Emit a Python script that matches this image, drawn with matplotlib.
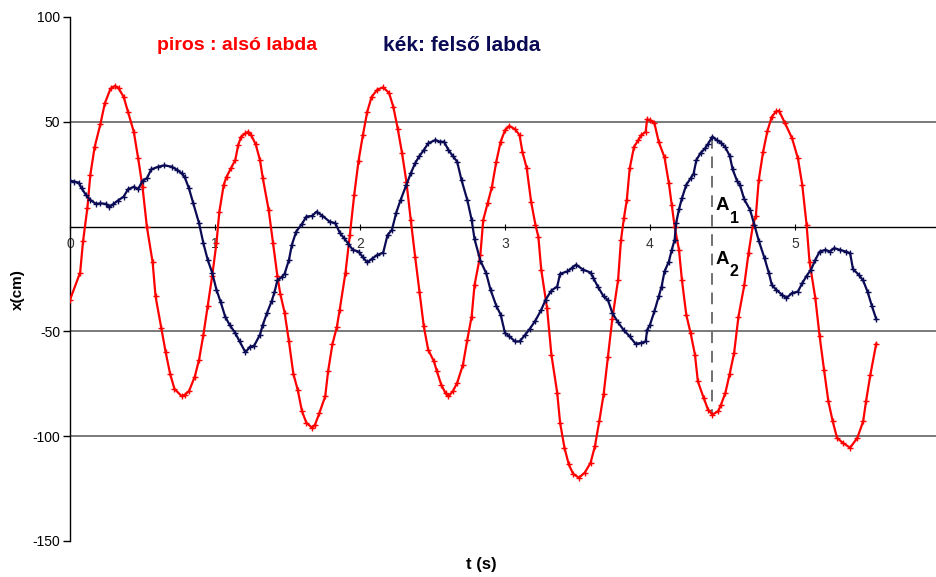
import matplotlib
matplotlib.use("Agg")
import matplotlib.pyplot as plt
import numpy as np

plt.rcParams['font.family'] = ['Liberation Sans', 'DejaVu Sans']

# ---- data ----
red_t = [0.00, 0.07, 0.09, 0.12, 0.14, 0.17, 0.21, 0.24, 0.28, 0.31, 0.335, 0.37, 0.40, 0.44, 0.47,
         0.50, 0.53, 0.57, 0.59, 0.63, 0.66, 0.69, 0.72, 0.77, 0.79, 0.82, 0.86, 0.89, 0.92, 0.95,
         0.98, 1.01, 1.03, 1.06, 1.08, 1.11, 1.14, 1.16, 1.18, 1.21, 1.23, 1.25, 1.28, 1.31, 1.33,
         1.37, 1.40, 1.43, 1.45, 1.48, 1.51, 1.54, 1.57, 1.60, 1.63, 1.67, 1.69, 1.72, 1.76, 1.78,
         1.81, 1.84, 1.86, 1.90, 1.93, 1.96, 1.99, 2.02, 2.05, 2.08, 2.12, 2.16, 2.20, 2.23, 2.26,
         2.29, 2.32, 2.35, 2.38, 2.41, 2.44, 2.47, 2.51, 2.53, 2.56, 2.59, 2.61, 2.64, 2.67, 2.71,
         2.74, 2.77, 2.79, 2.83, 2.85, 2.88, 2.91, 2.94, 2.97, 3.00, 3.03, 3.07, 3.10, 3.12, 3.15,
         3.18, 3.21, 3.23, 3.25, 3.29, 3.32, 3.36, 3.38, 3.41, 3.44, 3.47, 3.51, 3.55, 3.59, 3.62,
         3.65, 3.68, 3.71, 3.74, 3.78, 3.80, 3.82, 3.84, 3.86, 3.89, 3.92, 3.94, 3.97, 3.98, 4.00,
         4.03, 4.06, 4.10, 4.13, 4.15, 4.17, 4.20, 4.22, 4.25, 4.28, 4.31, 4.33, 4.37, 4.40, 4.43,
         4.47, 4.49, 4.52, 4.55, 4.58, 4.61, 4.65, 4.68, 4.71, 4.73, 4.75, 4.78, 4.81, 4.84, 4.87,
         4.89, 4.93, 4.98, 5.02, 5.05, 5.08, 5.10, 5.14, 5.17, 5.20, 5.23, 5.26, 5.29, 5.33, 5.38,
         5.43, 5.47, 5.49, 5.52, 5.56]
red_x = [-34.9, -21.9, -7.0, 9.0, 24.6, 38.0, 49.0, 58.8, 65.9, 67.1, 66.0, 61.9, 54.8, 45.2, 32.6,
         19.0, 0.0, -17.1, -33.3, -48.4, -60.0, -70.1, -77.4, -80.9, -80.3, -78.6, -71.7, -63.5, -51.6, -37.8,
         -23.8, -7.9, 7.1, 19.9, 23.8, 27.8, 31.8, 38.9, 42.9, 44.5, 45.2, 43.5, 39.4, 31.8, 23.0,
         8.0, -7.9, -23.5, -32.0, -41.0, -54.8, -70.1, -77.8, -88.1, -93.6, -96.0, -94.5, -88.9, -81.0, -69.0,
         -56.0, -48.0, -39.7, -21.9, -4.0, 15.1, 31.4, 43.7, 54.8, 61.9, 65.4, 66.4, 63.8, 57.1, 46.8,
         35.0, 21.4, 3.2, -14.3, -31.0, -47.6, -58.7, -64.3, -69.0, -75.4, -79.5, -81.0, -78.6, -74.6, -65.9,
         -54.0, -42.9, -27.8, -13.5, 3.2, 11.1, 19.0, 31.0, 40.5, 46.0, 48.0, 46.4, 43.7, 35.7, 27.8,
         11.9, 0.8, -4.8, -20.6, -38.9, -61.1, -79.3, -93.6, -105.5, -113.5, -118.0, -119.8, -117.4, -112.7, -104.8,
         -92.9, -80.1, -62.0, -44.0, -25.4, -6.3, 4.0, 12.7, 27.8, 38.1, 41.3, 43.7, 45.2, 51.1, 50.8,
         49.5, 40.5, 33.0, 20.7, 10.3, 0.0, -11.1, -25.4, -42.0, -50.8, -61.1, -73.8, -81.7, -87.3, -89.7,
         -88.1, -84.9, -79.3, -70.1, -60.3, -43.0, -28.0, -12.4, 0.8, 5.1, 22.2, 35.7, 45.7, 52.4, 55.0,
         55.2, 49.5, 42.1, 32.6, 19.9, 0.8, -16.7, -34.1, -52.4, -68.2, -83.3, -92.9, -100.8, -103.2, -105.5,
         -100.8, -92.9, -83.3, -70.6, -55.9]

blue_t = [0.00, 0.03, 0.06, 0.08, 0.11, 0.14, 0.18, 0.21, 0.25, 0.27, 0.30, 0.33, 0.37, 0.40, 0.44,
          0.47, 0.50, 0.53, 0.56, 0.61, 0.65, 0.70, 0.74, 0.77, 0.79, 0.82, 0.85, 0.89, 0.92, 0.95,
          0.98, 1.01, 1.04, 1.07, 1.10, 1.14, 1.17, 1.21, 1.24, 1.27, 1.31, 1.33, 1.36, 1.39, 1.41,
          1.43, 1.46, 1.48, 1.51, 1.53, 1.56, 1.60, 1.63, 1.67, 1.70, 1.74, 1.79, 1.83, 1.86, 1.89,
          1.92, 1.95, 1.99, 2.02, 2.05, 2.08, 2.12, 2.16, 2.19, 2.22, 2.25, 2.28, 2.32, 2.35, 2.38,
          2.41, 2.44, 2.47, 2.52, 2.55, 2.58, 2.61, 2.64, 2.67, 2.70, 2.74, 2.77, 2.79, 2.83, 2.87,
          2.90, 2.94, 2.97, 3.00, 3.03, 3.07, 3.10, 3.14, 3.17, 3.21, 3.25, 3.28, 3.32, 3.36, 3.38,
          3.43, 3.46, 3.49, 3.54, 3.59, 3.61, 3.64, 3.68, 3.71, 3.74, 3.78, 3.82, 3.86, 3.90, 3.94,
          3.97, 3.98, 4.00, 4.03, 4.06, 4.08, 4.10, 4.13, 4.15, 4.17, 4.18, 4.20, 4.22, 4.25, 4.28,
          4.30, 4.32, 4.35, 4.38, 4.40, 4.43, 4.46, 4.49, 4.52, 4.55, 4.57, 4.60, 4.62, 4.65, 4.69,
          4.72, 4.75, 4.79, 4.82, 4.84, 4.87, 4.91, 4.94, 4.98, 5.02, 5.05, 5.08, 5.11, 5.14, 5.17,
          5.21, 5.24, 5.27, 5.31, 5.35, 5.38, 5.40, 5.44, 5.47, 5.50, 5.53, 5.56]
blue_x = [21.9, 21.5, 21.0, 18.3, 15.1, 12.7, 10.8, 11.1, 10.8, 9.2, 10.8, 12.4, 14.3, 17.8, 19.0,
          17.8, 21.9, 23.0, 27.3, 28.6, 29.2, 28.6, 27.0, 25.4, 23.8, 18.3, 11.1, 1.6, -8.0, -15.9,
          -21.9, -30.1, -36.2, -42.9, -46.8, -50.8, -54.8, -60.0, -57.4, -56.8, -51.6, -46.8, -41.0, -35.7, -31.4,
          -25.7, -24.1, -22.5, -15.9, -8.7, -2.4, 1.3, 4.8, 5.1, 7.1, 5.2, 2.4, 1.6, -2.9, -5.5,
          -8.2, -11.1, -11.9, -14.6, -17.1, -15.5, -13.5, -12.4, -4.0, -1.6, 6.7, 12.7, 19.9, 25.4, 30.2,
          33.7, 36.5, 39.7, 41.3, 40.5, 40.5, 36.5, 33.7, 31.0, 22.2, 12.7, 3.2, -6.0, -16.2, -22.2,
          -30.1, -37.8, -42.0, -50.8, -52.4, -54.8, -54.8, -51.6, -48.9, -44.8, -39.7, -34.9, -30.5, -28.6, -22.5,
          -21.4, -19.8, -18.2, -20.6, -21.9, -24.6, -28.6, -33.3, -35.0, -41.2, -45.7, -49.5, -52.4, -55.9, -55.5,
          -54.8, -49.5, -46.8, -40.5, -33.3, -28.6, -21.4, -16.7, -11.1, -6.3, 1.6, 8.3, 13.5, 19.9, 23.0,
          25.1, 31.8, 35.2, 37.3, 39.4, 42.9, 41.3, 40.0, 37.8, 33.7, 27.3, 21.9, 19.9, 13.0, 8.0,
          0.8, -6.7, -15.1, -22.2, -27.8, -30.1, -32.5, -34.1, -31.7, -31.0, -27.0, -23.5, -20.6, -15.9, -11.9,
          -11.1, -11.9, -10.3, -11.1, -11.9, -12.7, -20.3, -23.0, -25.7, -31.0, -37.8, -44.1]

x_ticks = [0, 1, 2, 3, 4, 5, 6]
y_ticks = [-150, -100, -50, 50, 100]
red_label = "piros : alsó labda"
blue_label = "kék: felső labda"

RED = "#FF0000"
NAVY = "#0A0A55"

fig = plt.figure(figsize=(9.37, 5.77), dpi=100)
ax = fig.add_axes([70 / 937, 1 - 541 / 577, 870 / 937, (541 - 17) / 577])
ax.set_xlim(0, 6)
ax.set_ylim(-150, 100)

for gy in [50, -50, -100]:
    ax.axhline(gy, color="#555555", lw=1.1, zorder=1)

ax.plot(red_t, red_x, color=RED, lw=1.6, marker="+", ms=4, mew=1.0, zorder=3)
ax.plot(blue_t, blue_x, color=NAVY, lw=1.6, marker="+", ms=4, mew=1.0, zorder=3)

# dashed line between blue peak and red trough near t=4.43
bt = np.array(blue_t); bx = np.array(blue_x)
rt = np.array(red_t); rx = np.array(red_x)
m = (bt > 4.2) & (bt < 4.7)
i_b = np.argmax(np.where(m, bx, -1e9))
m2 = (rt > 4.2) & (rt < 4.7)
i_r = np.argmin(np.where(m2, rx, 1e9))
ax.plot([bt[i_b], bt[i_b]], [bx[i_b], rx[i_r]], color="#707070", lw=1.4,
        dashes=(6, 4), zorder=2)

ax.text(4.455, 10.3, "A", fontsize=13.5, fontweight="bold", ha="left", va="center")
ax.text(4.55, 4.0, "1", fontsize=11.5, fontweight="bold", ha="left", va="center")
ax.text(4.455, -15.5, "A", fontsize=13.5, fontweight="bold", ha="left", va="center")
ax.text(4.55, -21.5, "2", fontsize=11.5, fontweight="bold", ha="left", va="center")

ax.text(0.60, 86.5, red_label, color=RED, fontsize=14, fontweight="bold", ha="left", va="center")
ax.text(2.16, 86.5, blue_label, color=NAVY, fontsize=15, fontweight="bold", ha="left", va="center")

# spines
for s in ["top", "right"]:
    ax.spines[s].set_visible(False)
ax.spines["left"].set_position(("data", 0))
ax.spines["bottom"].set_position(("data", 0))
ax.spines["left"].set_color("black")
ax.spines["bottom"].set_color("black")
ax.spines["left"].set_linewidth(1.0)
ax.spines["bottom"].set_linewidth(1.0)

ax.set_yticks(y_ticks)
ax.set_yticklabels([str(v) for v in y_ticks])
ax.set_xticks(x_ticks)
ax.set_xticklabels([str(v) for v in x_ticks])
ax.tick_params(axis="y", direction="out", length=5, width=1, labelsize=10, pad=2)
ax.tick_params(axis="x", direction="inout", length=5, width=0.8, labelsize=10, pad=5,
               labelcolor="#333333")

fig.text(18 / 937, 1 - 290 / 577, "x(cm)", rotation=90, fontsize=11, fontweight="bold",
         ha="center", va="center")
fig.text(481 / 937, 1 - 565 / 577, "t (s)", fontsize=12, fontweight="bold",
         ha="center", va="center")

fig.savefig("out.png", dpi=100)
